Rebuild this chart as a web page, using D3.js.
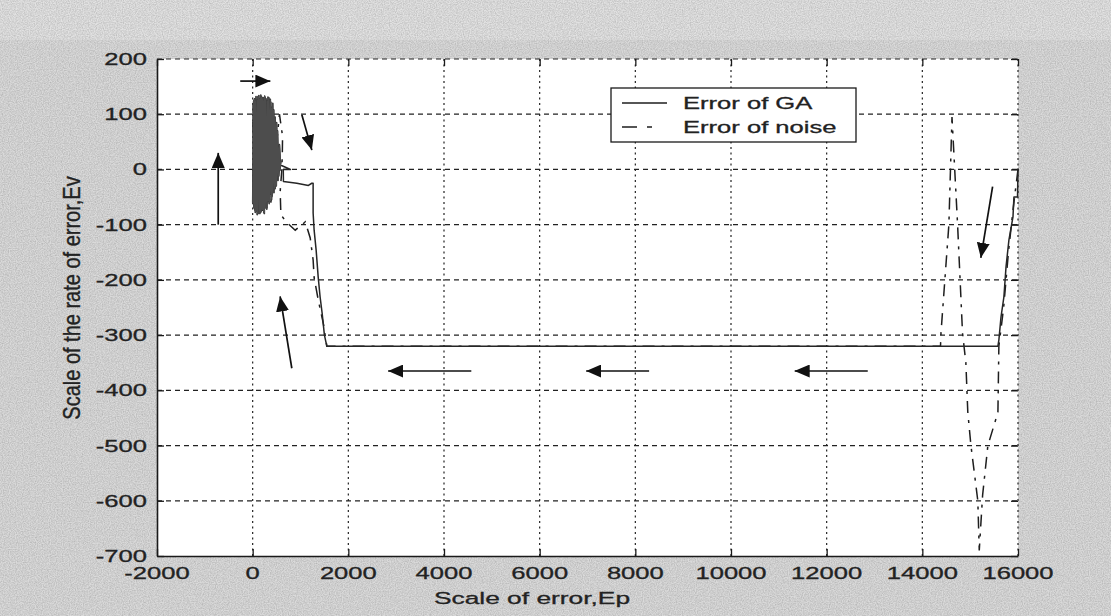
<!DOCTYPE html>
<html>
<head>
<meta charset="utf-8">
<script src="https://cdn.jsdelivr.net/npm/d3@7"></script>
<style>
  html, body { margin: 0; padding: 0; background: #d3d3d3; }
  svg { display: block; }
  text { font-family: "Liberation Sans", Arial, sans-serif; fill: #222; stroke: #222; stroke-width: 0.3; }
</style>
</head>
<body>
<svg id="chart" width="1111" height="616"></svg>
<script>
// ---- axis ticks ----
const xTicks = [-2000, 0, 2000, 4000, 6000, 8000, 10000, 12000, 14000, 16000];
const yTicks = [200, 100, 0, -100, -200, -300, -400, -500, -600, -700];

// ---- GA error trajectory [Ep, Ev] ----
const gaPath = [
  [16000, 2], [15990, -50], [15915, -50], [15895, -86], [15810, -128], [15750, -176],
  [15705, -231], [15645, -267], [15600, -309], [15580, -320], [1550, -320], [1500, -300],
  [1452, -260], [1410, -231], [1370, -195], [1327, -146], [1285, -110], [1264, -79],
  [1264, -25], [1236, -25], [1166, -29], [923, -25], [643, -22], [640, 0], [790, 0], [580, 8]
];
// dense oscillation of the GA error near the origin
const gaCluster = [
  [590, 15], [570, -2], [555, 40], [535, -8], [515, 60], [495, -20], [475, 80], [455, -30],
  [430, 100], [415, -38], [400, 112], [385, -45], [370, 118], [355, -50], [340, 130], [325, -58],
  [310, 125], [295, -66], [280, 128], [265, -70], [250, 133], [235, -79], [220, 127], [205, -74],
  [190, 131], [175, -77], [160, 129], [145, -72], [130, 134], [115, -80], [100, 126], [85, -75],
  [70, 132], [55, -78], [40, 128], [25, -70], [10, 120], [5, -62], [20, 124], [45, -74],
  [70, 127], [95, -82], [120, 131], [145, -76], [170, 135], [195, -73], [220, 130], [245, -80],
  [270, 126], [295, -72], [320, 131], [345, -62], [370, 127], [395, -55], [420, 120], [445, -42],
  [470, 95], [495, -30], [520, 70], [545, -12], [575, 20], [560, 45], [530, -20], [500, 85],
  [470, -35], [440, 108], [410, -48], [380, 122], [350, -60], [330, 128], [300, -70], [260, 131],
  [230, -78], [200, 128], [150, -80], [110, 132], [60, -76], [30, 126], [0, -60], [15, 110],
  [60, 124], [90, -70], [140, 128], [180, -68], [230, 125], [280, -60], [330, 118], [380, -40],
  [430, 90], [470, -10], [510, 50], [540, 5]
];

// ---- noise error trajectory [Ep, Ev] ----
const noisePath = [
  [16000, 0], [15900, -70], [15800, -150], [15700, -250], [15600, -320], [15580, -440],
  [15370, -500], [15260, -590], [15190, -690], [15160, -600], [15015, -499], [14950, -439],
  [14910, -350], [14840, -296], [14737, -100], [14620, 95], [14555, -100], [14390, -296],
  [14380, -320], [1550, -320], [1480, -280], [1370, -236], [1285, -196], [1264, -164],
  [1203, -124], [1100, -95], [890, -110], [700, -95], [590, -82], [575, -40], [610, 0],
  [620, 30], [625, 60], [560, 100], [380, -60], [250, 120], [120, -70], [0, 90]
];

// ---- direction arrows [fromEp, fromEv, toEp, toEv] ----
const arrows = [
  [-720, -100, -720, 30],
  [-260, 160, 370, 160],
  [1028, 99, 1237, 35],
  [818, -360, 574, -230],
  [4571, -365, 2832, -365],
  [8288, -365, 6972, -365],
  [12859, -365, 11331, -365],
  [15469, -31, 15223, -160]
];

const legendItems = ["Error of GA", "Error of noise"];
const xTitle = "Scale of error,Ep";
const yTitle = "Scale of the rate of error,Ev";

// ---- layout ----
const W = 1111, H = 616;
const plot = { left: 157, right: 1018, top: 59, bottom: 556 };
const x = d3.scaleLinear().domain([-2000, 16000]).range([plot.left, plot.right]);
const y = d3.scaleLinear().domain([-700, 200]).range([plot.bottom, plot.top]);
const stretch = 1.55;   // wide glyphs of the printed figure

const svg = d3.select("#chart");
const defs = svg.append("defs");

// paper grain for the page outside the axes
const grain = defs.append("filter").attr("id", "grain")
  .attr("x", 0).attr("y", 0).attr("width", "100%").attr("height", "100%");
grain.append("feTurbulence").attr("type", "fractalNoise")
  .attr("baseFrequency", 0.85).attr("numOctaves", 2).attr("seed", 7);
grain.append("feColorMatrix").attr("type", "matrix")
  .attr("values", "0 0 0 0 0  0 0 0 0 0  0 0 0 0 0  0 0 0 -1.6 1.15");

defs.append("marker").attr("id", "head")
  .attr("viewBox", "0 0 15 13").attr("refX", 15).attr("refY", 6.5)
  .attr("markerWidth", 15).attr("markerHeight", 13)
  .attr("markerUnits", "userSpaceOnUse").attr("orient", "auto")
  .append("path").attr("d", "M0,0 L15,6.5 L0,13 Z").attr("fill", "#111");

// page background
svg.append("rect").attr("width", W).attr("height", H).attr("fill", "#dadada");
svg.append("rect").attr("width", W).attr("height", 40).attr("fill", "#e2e2e2");
svg.append("rect").attr("width", W).attr("height", H)
  .attr("filter", "url(#grain)").attr("opacity", 0.16);

// plot area
svg.append("rect")
  .attr("x", plot.left).attr("y", plot.top)
  .attr("width", plot.right - plot.left).attr("height", plot.bottom - plot.top)
  .attr("fill", "#ffffff");

// grid
const grid = svg.append("g").attr("stroke", "#222").attr("stroke-width", 1.2).attr("fill", "none");
grid.selectAll(".gy").data(yTicks.filter(v => v !== -700)).join("line")
  .attr("x1", plot.left).attr("x2", plot.right)
  .attr("y1", d => y(d)).attr("y2", d => y(d))
  .attr("stroke-dasharray", "5,4");
grid.selectAll(".gx").data(xTicks.filter(v => v !== -2000)).join("line")
  .attr("x1", d => x(d)).attr("x2", d => x(d))
  .attr("y1", plot.top).attr("y2", plot.bottom)
  .attr("stroke-dasharray", "2,3.5");

// inward ticks on all four sides
function styleAxis(g) {
  g.selectAll("text").remove();
  g.selectAll("line").attr("stroke", "#1a1a1a").attr("stroke-width", 1.3);
  g.select(".domain").attr("stroke", "#1a1a1a").attr("stroke-width", 1.6);
}
svg.append("g").attr("transform", `translate(0,${plot.bottom})`)
  .call(d3.axisBottom(x).tickValues(xTicks).tickSize(-7).tickSizeOuter(0)).call(styleAxis);
svg.append("g").attr("transform", `translate(${plot.left},0)`)
  .call(d3.axisLeft(y).tickValues(yTicks).tickSize(-7).tickSizeOuter(0)).call(styleAxis);
svg.append("g").attr("transform", `translate(0,${plot.top})`)
  .call(d3.axisTop(x).tickValues(xTicks).tickSize(-7).tickSizeOuter(0)).call(styleAxis)
  .select(".domain").remove();
svg.append("g").attr("transform", `translate(${plot.right},0)`)
  .call(d3.axisRight(y).tickValues(yTicks).tickSize(-7).tickSizeOuter(0)).call(styleAxis)
  .select(".domain").remove();

// tick labels
svg.append("g").selectAll("text").data(xTicks).join("text")
  .attr("transform", d => `translate(${x(d)},${plot.bottom + 23}) scale(${stretch},1)`)
  .attr("text-anchor", "middle").attr("font-size", 16.5)
  .text(d => d);
svg.append("g").selectAll("text").data(yTicks).join("text")
  .attr("transform", d => `translate(${plot.left - 10},${y(d) + 6}) scale(${stretch},1)`)
  .attr("text-anchor", "end").attr("font-size", 16.5)
  .text(d => d);

// axis titles
svg.append("text")
  .attr("transform", `translate(532,${plot.bottom + 48}) scale(${stretch},1)`)
  .attr("text-anchor", "middle").attr("font-size", 17)
  .text(xTitle);
svg.append("text")
  .attr("transform", `translate(80,298) scale(1.2,1) rotate(-90)`)
  .attr("text-anchor", "middle").attr("font-size", 20)
  .text(yTitle);

// data lines
const line = d3.line().x(d => x(d[0])).y(d => y(d[1]));
svg.append("path").datum(noisePath).attr("d", line)
  .attr("fill", "none").attr("stroke", "#1e1e1e").attr("stroke-width", 1.5)
  .attr("stroke-dasharray", "12,7,3,7");
svg.append("path").datum(gaPath.concat(gaCluster)).attr("d", line)
  .attr("fill", "none").attr("stroke", "#262626").attr("stroke-width", 1.5)
  .attr("stroke-linejoin", "round");
svg.append("path").datum(gaCluster).attr("d", line)
  .attr("fill", "none").attr("stroke", "#4d4d4d").attr("stroke-width", 1.2);

// arrows
svg.append("g").selectAll("line").data(arrows).join("line")
  .attr("x1", d => x(d[0])).attr("y1", d => y(d[1]))
  .attr("x2", d => x(d[2])).attr("y2", d => y(d[3]))
  .attr("stroke", "#111").attr("stroke-width", 1.7)
  .attr("marker-end", "url(#head)");

// legend
const lg = svg.append("g");
lg.append("rect").attr("x", 611).attr("y", 88).attr("width", 245).attr("height", 54)
  .attr("fill", "#fff").attr("stroke", "#1a1a1a").attr("stroke-width", 1.3);
legendItems.forEach((name, i) => {
  const ly = 103 + i * 24;
  lg.append("line").attr("x1", 622).attr("x2", 667).attr("y1", ly).attr("y2", ly)
    .attr("stroke", "#1e1e1e").attr("stroke-width", 1.5)
    .attr("stroke-dasharray", i === 0 ? null : "15,10,5,20");
  lg.append("text")
    .attr("transform", `translate(683,${ly + 6}) scale(${stretch},1)`)
    .attr("font-size", 16.5).text(name);
});
</script>
</body>
</html>
